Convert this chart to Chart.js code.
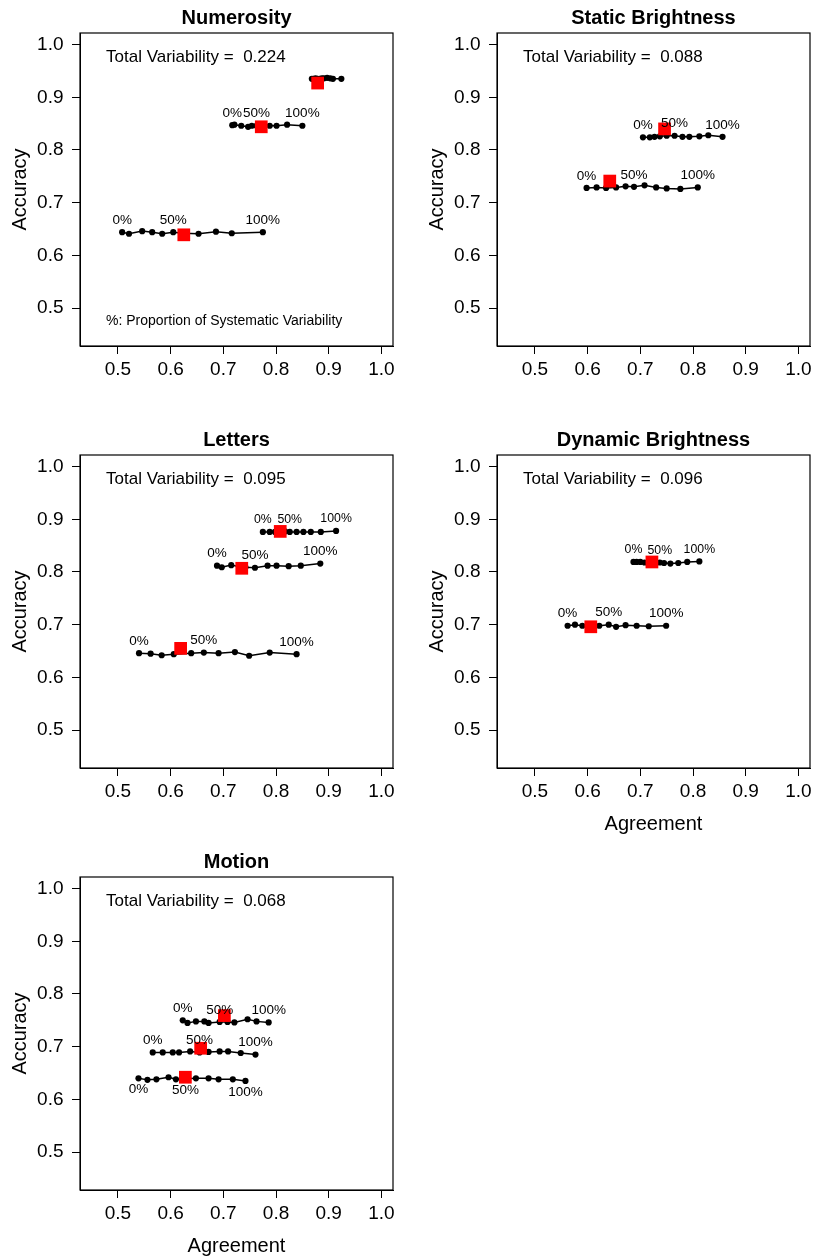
<!DOCTYPE html>
<html>
<head>
<meta charset="utf-8">
<script src="https://cdn.jsdelivr.net/npm/chart.js@4.4.0/dist/chart.umd.min.js"></script>
<style>
  body { margin: 0; background: #fff; width: 813px; height: 1260px; overflow: hidden; position: relative; }
  .panel { position: absolute; }
</style>
</head>
<body>
<div class="panel" style="left:0px;top:0px"><canvas id="c0" width="406" height="422"></canvas></div>
<div class="panel" style="left:417px;top:0px"><canvas id="c1" width="406" height="422"></canvas></div>
<div class="panel" style="left:0px;top:422px"><canvas id="c2" width="406" height="422"></canvas></div>
<div class="panel" style="left:417px;top:422px"><canvas id="c3" width="406" height="422"></canvas></div>
<div class="panel" style="left:0px;top:844px"><canvas id="c4" width="406" height="422"></canvas></div>
<script>
const FONT = '"Liberation Sans", Arial, Helvetica, sans-serif';

// axes
const xTicks = [0.5, 0.6, 0.7, 0.8, 0.9, 1.0];
const yTicks = [0.5, 0.6, 0.7, 0.8, 0.9, 1.0];
const axisMin = 0.428;
const axisMax = 1.022;

// proportion of systematic variability, 0% .. 100%
const levels = ['0%','10%','20%','30%','40%','50%','60%','70%','80%','90%','100%'];
const shownLevels = ['0%', '50%', '100%'];

const panelTitles = ['Numerosity', 'Static Brightness', 'Letters', 'Dynamic Brightness', 'Motion'];
const totalVariability = [0.224, 0.088, 0.095, 0.096, 0.068];

// Numerosity
const numerosityAgreement = [
  [0.508, 0.521, 0.546, 0.565, 0.584, 0.605, 0.624, 0.653, 0.686, 0.716, 0.775],
  [0.717, 0.721, 0.734, 0.747, 0.754, 0.763, 0.777, 0.788, 0.801, 0.821, 0.850],
  [0.868, 0.871, 0.875, 0.879, 0.883, 0.887, 0.891, 0.897, 0.903, 0.908, 0.924]
];
const numerosityAccuracy = [
  [0.644, 0.641, 0.646, 0.644, 0.641, 0.644, 0.642, 0.641, 0.645, 0.642, 0.644],
  [0.847, 0.848, 0.846, 0.844, 0.846, 0.846, 0.846, 0.846, 0.846, 0.848, 0.846],
  [0.935, 0.935, 0.936, 0.935, 0.935, 0.936, 0.936, 0.937, 0.936, 0.935, 0.935]
];
const numerosityMeanAgreement = [0.625, 0.772, 0.879];
const numerosityMeanAccuracy = [0.639, 0.844, 0.927];

// Static Brightness
const staticAgreement = [
  [0.598, 0.617, 0.635, 0.654, 0.672, 0.688, 0.708, 0.730, 0.750, 0.776, 0.809],
  [0.705, 0.718, 0.727, 0.737, 0.750, 0.765, 0.780, 0.793, 0.812, 0.829, 0.856]
];
const staticAccuracy = [
  [0.728, 0.729, 0.728, 0.729, 0.731, 0.730, 0.733, 0.729, 0.727, 0.726, 0.729],
  [0.824, 0.824, 0.825, 0.826, 0.827, 0.827, 0.825, 0.825, 0.826, 0.828, 0.825]
];
const staticMeanAgreement = [0.642, 0.746];
const staticMeanAccuracy = [0.741, 0.840];

// Letters
const lettersAgreement = [
  [0.540, 0.562, 0.583, 0.606, 0.639, 0.663, 0.691, 0.722, 0.749, 0.788, 0.839],
  [0.688, 0.697, 0.715, 0.731, 0.742, 0.760, 0.784, 0.801, 0.824, 0.847, 0.884],
  [0.775, 0.788, 0.798, 0.807, 0.817, 0.826, 0.839, 0.852, 0.866, 0.885, 0.914]
];
const lettersAccuracy = [
  [0.646, 0.645, 0.642, 0.644, 0.646, 0.647, 0.646, 0.648, 0.641, 0.647, 0.644],
  [0.812, 0.809, 0.813, 0.810, 0.809, 0.808, 0.812, 0.812, 0.811, 0.812, 0.816],
  [0.876, 0.876, 0.876, 0.877, 0.877, 0.876, 0.876, 0.876, 0.876, 0.876, 0.878]
];
const lettersMeanAgreement = [0.619, 0.735, 0.808];
const lettersMeanAccuracy = [0.655, 0.807, 0.877];

// Dynamic Brightness
const dynamicAgreement = [
  [0.562, 0.576, 0.590, 0.605, 0.622, 0.640, 0.654, 0.672, 0.693, 0.716, 0.749],
  [0.687, 0.693, 0.700, 0.708, 0.719, 0.737, 0.745, 0.757, 0.772, 0.789, 0.812]
];
const dynamicAccuracy = [
  [0.698, 0.700, 0.698, 0.698, 0.698, 0.700, 0.696, 0.699, 0.698, 0.697, 0.698],
  [0.819, 0.819, 0.819, 0.818, 0.818, 0.818, 0.817, 0.816, 0.817, 0.819, 0.820]
];
const dynamicMeanAgreement = [0.606, 0.722];
const dynamicMeanAccuracy = [0.696, 0.819];

// Motion
const motionAgreement = [
  [0.539, 0.556, 0.573, 0.596, 0.610, 0.628, 0.648, 0.672, 0.691, 0.718, 0.742],
  [0.566, 0.585, 0.604, 0.616, 0.637, 0.655, 0.672, 0.693, 0.709, 0.733, 0.761],
  [0.623, 0.632, 0.648, 0.664, 0.672, 0.693, 0.708, 0.721, 0.746, 0.763, 0.786]
];
const motionAccuracy = [
  [0.640, 0.637, 0.638, 0.642, 0.638, 0.639, 0.640, 0.640, 0.638, 0.638, 0.635],
  [0.689, 0.689, 0.689, 0.689, 0.691, 0.689, 0.690, 0.691, 0.691, 0.688, 0.685],
  [0.750, 0.745, 0.748, 0.748, 0.745, 0.747, 0.747, 0.746, 0.752, 0.748, 0.746]
];
const motionMeanAgreement = [0.628, 0.657, 0.702];
const motionMeanAccuracy = [0.642, 0.697, 0.759];

// layout / label styling per panel
const panels = [
  { id: 'c0', agree: numerosityAgreement, acc: numerosityAccuracy, meanX: numerosityMeanAgreement, meanY: numerosityMeanAccuracy,
    labelSide: ['above', 'above', 'none'], labelSize: [13.5, 13.5, 13.5], xTitle: false, note: true },
  { id: 'c1', agree: staticAgreement, acc: staticAccuracy, meanX: staticMeanAgreement, meanY: staticMeanAccuracy,
    labelSide: ['above', 'above'], labelSize: [13.5, 13.5], xTitle: false, note: false },
  { id: 'c2', agree: lettersAgreement, acc: lettersAccuracy, meanX: lettersMeanAgreement, meanY: lettersMeanAccuracy,
    labelSide: ['above', 'above', 'above'], labelSize: [13.5, 13.5, 12.3], xTitle: false, note: false },
  { id: 'c3', agree: dynamicAgreement, acc: dynamicAccuracy, meanX: dynamicMeanAgreement, meanY: dynamicMeanAccuracy,
    labelSide: ['above', 'above'], labelSize: [13.5, 12.3], xTitle: true, note: false },
  { id: 'c4', agree: motionAgreement, acc: motionAccuracy, meanX: motionMeanAgreement, meanY: motionMeanAccuracy,
    labelSide: ['below', 'above', 'above'], labelSize: [13.5, 13.5, 13.5], xTitle: true, note: false }
];

const panelDecor = {
  id: 'panelDecor',
  afterDatasetsDraw(chart, args, opts) {
    const { ctx, chartArea: a, scales: { x, y } } = chart;
    ctx.save();
    // box round the plot
    ctx.strokeStyle = '#000';
    ctx.lineWidth = 1.2;
    ctx.strokeRect(a.left, a.top, a.right - a.left, a.bottom - a.top);

    ctx.fillStyle = '#000';
    ctx.textBaseline = 'middle';
    // panel title, centred over the plot box
    ctx.textAlign = 'center';
    ctx.font = 'bold 20px ' + FONT;
    ctx.fillText(opts.title, (a.left + a.right) / 2, a.top - 15);

    ctx.textAlign = 'left';
    ctx.font = '17px ' + FONT;
    ctx.fillText('Total Variability =  ' + opts.total.toFixed(3), a.left + 26, a.top + 24.5);
    if (opts.note) {
      ctx.font = '14px ' + FONT;
      ctx.fillText('%: Proportion of Systematic Variability', a.left + 26, a.top + 288);
    }

    // percentage labels next to the rows
    ctx.textAlign = 'center';
    chart.data.datasets.forEach(ds => {
      if (!ds.labelSide || ds.labelSide === 'none') return;
      ctx.font = ds.labelSize + 'px ' + FONT;
      shownLevels.forEach(lv => {
        const i = levels.indexOf(lv);
        const p = ds.data[i];
        const px = x.getPixelForValue(p.x);
        const py = y.getPixelForValue(p.y) + (ds.labelSide === 'above' ? -12 : 11);
        ctx.fillText(lv, px, py);
      });
    });
    ctx.restore();
  }
};

panels.forEach((p, k) => {
  const canvas = document.getElementById(p.id);
  const datasets = [{
    data: p.meanX.map((v, i) => ({ x: v, y: p.meanY[i] })),
    showLine: false,
    pointStyle: 'rect',
    pointRadius: 9,
    pointBackgroundColor: '#ff0000',
    pointBorderWidth: 0,
    order: 0
  }];
  p.agree.forEach((row, r) => {
    datasets.push({
      data: row.map((v, i) => ({ x: v, y: p.acc[r][i] })),
      showLine: true,
      borderColor: '#000',
      borderWidth: 1.5,
      pointRadius: 3.1,
      pointBackgroundColor: '#000',
      pointBorderWidth: 0,
      labelSide: p.labelSide[r],
      labelSize: p.labelSize[r],
      order: 1
    });
  });

  new Chart(canvas.getContext('2d'), {
    type: 'scatter',
    data: { datasets },
    options: {
      responsive: false,
      animation: false,
      events: [],
      layout: { padding: { left: 0, right: canvas.width - 393, top: 33, bottom: 0 } },
      plugins: {
        legend: { display: false },
        tooltip: { enabled: false },
        title: { display: false },
        panelDecor: { title: panelTitles[k], total: totalVariability[k], note: p.note }
      },
      scales: {
        x: {
          type: 'linear',
          position: 'bottom',
          min: axisMin,
          max: axisMax,
          afterBuildTicks: s => { s.ticks = xTicks.map(value => ({ value })); },
          afterFit: s => { s.height = canvas.height - 346; },
          grid: { drawOnChartArea: false, drawTicks: true, tickLength: 8, color: '#000', lineWidth: 1 },
          border: { display: true, color: '#000', width: 1 },
          ticks: { color: '#000', padding: 4.5, maxRotation: 0, font: { family: FONT, size: 19 }, callback: v => v.toFixed(1) },
          title: { display: p.xTitle, text: 'Agreement', color: '#000', font: { family: FONT, size: 20 }, padding: { top: 0, bottom: 8 } }
        },
        y: {
          type: 'linear',
          position: 'left',
          min: axisMin,
          max: axisMax,
          afterBuildTicks: s => { s.ticks = yTicks.map(value => ({ value })); },
          afterFit: s => { s.width = 80; },
          grid: { drawOnChartArea: false, drawTicks: true, tickLength: 8, color: '#000', lineWidth: 1 },
          border: { display: true, color: '#000', width: 1 },
          ticks: { color: '#000', padding: 8.5, font: { family: FONT, size: 19 }, callback: v => v.toFixed(1) },
          title: { display: true, text: 'Accuracy', color: '#000', font: { family: FONT, size: 20 }, padding: { top: 8, bottom: 0 } }
        }
      }
    },
    plugins: [panelDecor]
  });
});
</script>
</body>
</html>
